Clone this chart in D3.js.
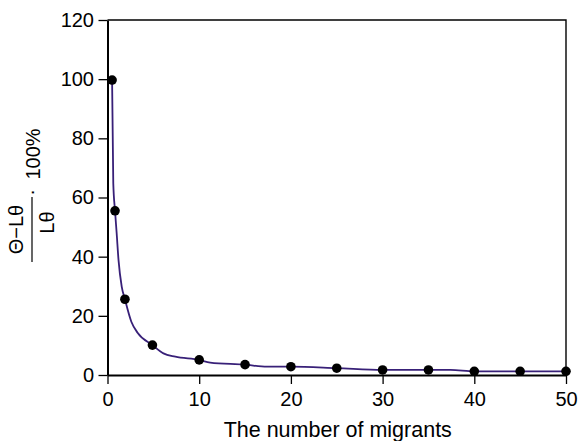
<!DOCTYPE html>
<html>
<head>
<meta charset="utf-8">
<script src="https://cdn.jsdelivr.net/npm/d3@7"></script>
<style>
  html, body { margin: 0; padding: 0; background: #fff; }
  svg { display: block; }
  text { font-family: "Liberation Sans", Arial, sans-serif; fill: #000; }
</style>
</head>
<body>
<svg id="chart" width="579" height="441"></svg>
<script>
// Data
const pointX = [0.5, 0.82, 1.9, 4.9, 10, 15, 20, 25, 30, 35, 40, 45, 50];
const pointY = [99.7, 55.5, 25.6, 10.1, 5.1, 3.5, 2.8, 2.3, 1.7, 1.7, 1.25, 1.25, 1.25];
const curveX = [0.5, 0.63, 0.82, 1.0, 1.2, 1.55, 1.9, 2.6, 3.3, 4.9, 6.1, 7.4, 10, 11.2, 15, 17.4, 20, 25, 30, 37.4, 40, 45, 50];
const curveY = [99.7, 64.8, 55.5, 47.9, 38.9, 29.9, 25.6, 18, 14.2, 10.1, 7.3, 6.2, 5.1, 4.2, 3.5, 2.8, 2.8, 2.3, 1.7, 1.7, 1.25, 1.25, 1.25];
const xTicks = [0, 10, 20, 30, 40, 50];
const yTicks = [0, 20, 40, 60, 80, 100, 120];
const xTitle = "The number of migrants";

const svg = d3.select("#chart");
const pLeft = 107.5, pRight = 566, pTop = 20, pBottom = 375;

const x = d3.scaleLinear().domain([0, 50]).range([pLeft, pRight]);
const y = d3.scaleLinear().domain([0, 120]).range([pBottom, pTop]);

// frame (top & right)
svg.append("path")
  .attr("d", `M${pLeft},${pTop}H${pRight}V${pBottom}`)
  .attr("fill", "none").attr("stroke", "#000").attr("stroke-width", 1.4);

// axes
const xAxis = svg.append("g").attr("transform", `translate(0,${pBottom})`)
  .call(d3.axisBottom(x).tickValues(xTicks).tickSize(9).tickPadding(5).tickSizeOuter(0));
const yAxis = svg.append("g").attr("transform", `translate(${pLeft},0)`)
  .call(d3.axisLeft(y).tickValues(yTicks).tickSize(9).tickPadding(4.5).tickSizeOuter(0));

[xAxis, yAxis].forEach(g => {
  g.select(".domain").attr("stroke", "#000").attr("stroke-width", 2);
  g.selectAll(".tick line").attr("stroke", "#000").attr("stroke-width", 1.3);
  g.selectAll(".tick text").attr("font-size", 20).attr("fill", "#000")
    .attr("font-family", '"Liberation Sans", Arial, sans-serif');
});
xAxis.selectAll(".tick text").attr("dy", 0).attr("y", 31);

// x title
svg.append("text")
  .attr("x", (pLeft + pRight) / 2 + 1).attr("y", 437)
  .attr("text-anchor", "middle").attr("font-size", 21.5)
  .text(xTitle);

// y title (fraction)
const yl = svg.append("g").attr("transform", "translate(32,229.5) rotate(-90)");
yl.append("text").attr("x", 0).attr("y", -9).attr("text-anchor", "middle")
  .attr("font-size", 20).text("Θ−Lθ");
yl.append("line").attr("x1", -32.5).attr("x2", 32.5).attr("y1", 0).attr("y2", 0)
  .attr("stroke", "#000").attr("stroke-width", 1.2);
yl.append("text").attr("x", 7).attr("y", 22).attr("text-anchor", "middle")
  .attr("font-size", 20).text("Lθ");
yl.append("text").attr("x", 37).attr("y", 6).attr("text-anchor", "middle")
  .attr("font-size", 20).text("·");
yl.append("text").attr("x", 50).attr("y", 8).attr("text-anchor", "start")
  .attr("font-size", 20).text("100%");

// curve
const curveData = curveX.map((d, i) => [d, curveY[i]]);
svg.append("path")
  .datum(curveData)
  .attr("fill", "none").attr("stroke", "#382078").attr("stroke-width", 1.8)
  .attr("d", d3.line().x(d => x(d[0])).y(d => y(d[1])).curve(d3.curveMonotoneX));

// points
svg.append("g").selectAll("circle")
  .data(pointX.map((d, i) => [d, pointY[i]]))
  .join("circle")
  .attr("cx", d => x(d[0])).attr("cy", d => y(d[1])).attr("r", 4.8)
  .attr("fill", "#000");
</script>
</body>
</html>
